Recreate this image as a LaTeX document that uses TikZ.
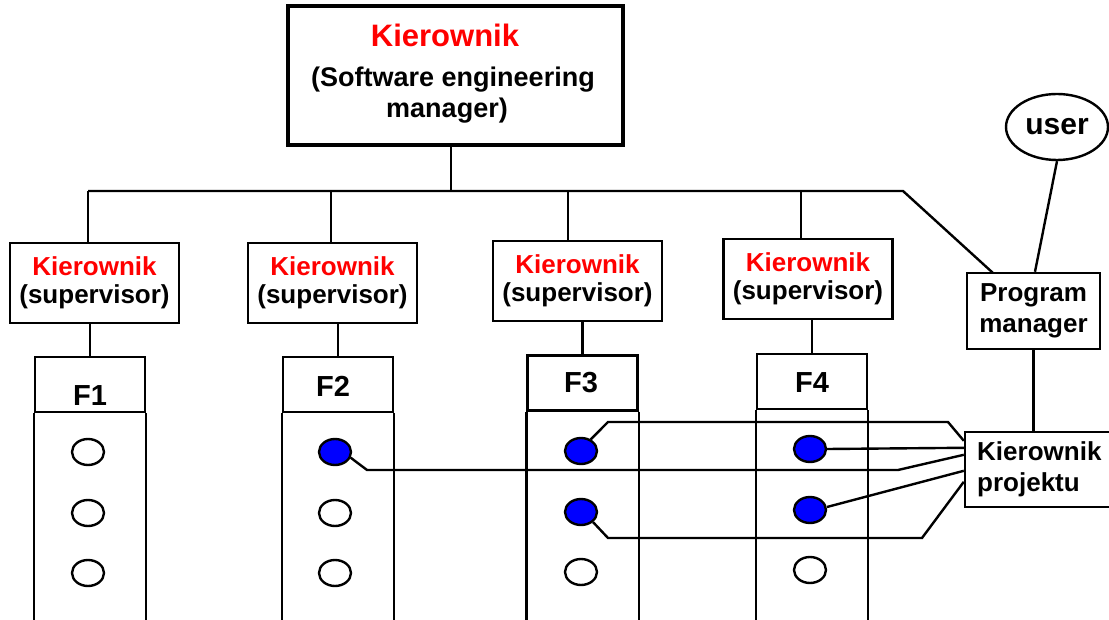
\documentclass[tikz,border=0pt]{standalone}
\usepackage{fontspec}
\setmainfont{Liberation Sans}
\usetikzlibrary{shapes.geometric}
\definecolor{kred}{RGB}{255,0,0}
\definecolor{kblue}{RGB}{0,0,255}
\begin{document}
\begin{tikzpicture}[x=1pt,y=-1pt,line width=2.4pt,
  sbox/.style={draw,rectangle,inner sep=0pt,align=center,minimum width=169pt,minimum height=80pt,
    font=\bfseries\fontsize{26}{28}\selectfont},
  rbox/.style={draw,rectangle,inner sep=0pt,align=center,minimum width=133pt,minimum height=76pt,
    font=\bfseries\fontsize{26}{31}\selectfont},
  txt/.style={inner sep=0pt,font=\bfseries\fontsize{26}{31}\selectfont},
  fhead/.style={draw,rectangle,inner sep=0pt,minimum width=110pt,minimum height=55pt},
  flabel/.style={inner sep=0pt,font=\bfseries\fontsize{29}{32}\selectfont},
  dot/.style={draw,ellipse,inner sep=0pt,minimum width=32pt,minimum height=26pt},
  bdot/.style={dot,fill=kblue}]
\useasboundingbox (0,0) rectangle (1109,620);
\clip (0,0) rectangle (1109,620);

% top box
\node[draw,rectangle,line width=4.5pt,minimum width=335pt,minimum height=139pt] (top) at (455.5,75.5) {};
\node[inner sep=0pt,text=kred,font=\bfseries\fontsize{31}{34}\selectfont] (topk) at (445,35) {Kierownik};
\node[txt,font=\bfseries\fontsize{27}{31}\selectfont] (tops) at (453,80) {(Software engineering};
\node[txt,font=\bfseries\fontsize{27}{31}\selectfont] (topm) at (447,111) {manager)};

% supervisors
\node[sbox] (s1) at (94.5,283) {\textcolor{kred}{Kierownik}\\(supervisor)};
\node[sbox] (s2) at (332.5,283) {\textcolor{kred}{Kierownik}\\(supervisor)};
\node[sbox] (s3) at (577.5,281) {\textcolor{kred}{Kierownik}\\(supervisor)};
\node[sbox] (s4) at (808,279) {\textcolor{kred}{Kierownik}\\(supervisor)};

% program manager, user, project manager
\node[rbox] (pm) at (1033.5,311) {Program\\manager};
\node[draw,ellipse,inner sep=0pt,minimum width=102pt,minimum height=66pt,
  font=\bfseries\fontsize{30}{32}\selectfont] (user) at (1057,127) {user};
\node[draw,rectangle,inner sep=0pt,minimum width=147pt,minimum height=75pt] (kp) at (1038.5,469.5) {};
\node[txt,anchor=west,align=left] (kpt) at (976,469) {Kierownik\\projektu};

% bus
\coordinate (bt) at (451,191);
\coordinate (b1) at (88,191);
\coordinate (b2) at (331,191);
\coordinate (b3) at (568,191);
\coordinate (b4) at (801,191);
\coordinate (bend) at (903,191);
\coordinate (pmin) at (993,273);
\draw (bt) -- (bt |- top.south);
\draw (b1) -- (bend) -- (pmin);
\draw (b1) -- (b1 |- s1.north);
\draw (b2) -- (b2 |- s2.north);
\draw (b3) -- (b3 |- s3.north);
\draw (b4) -- (b4 |- s4.north);
\draw (user.south) -- ([xshift=1.5pt]pm.north);
\draw (pm.south) -- (pm.south |- kp.north);

% function columns
\node[fhead] (h1) at (90,384.5) {};
\node[fhead] (h2) at (338,384.5) {};
\node[fhead] (h3) at (582.5,383) {};
\node[fhead] (h4) at (812,381.5) {};
\node[flabel] (l1) at (90,396) {F1};
\node[flabel] (l2) at (333,386) {F2};
\node[flabel] (l3) at (581,383) {F3};
\node[flabel] (l4) at (812,383) {F4};
\foreach \h in {h1,h2,h3,h4}{
  \draw (\h.south west) -- ++(0,240);
  \draw (\h.south east) -- ++(0,240);
}
\draw (h1.north) -- (h1.north |- s1.south);
\draw (h2.north) -- (h2.north |- s2.south);
\draw (h3.north) -- (h3.north |- s3.south);
\draw (h4.north) -- (h4.north |- s4.south);

% dots
\node[dot]  (d11) at (88,452) {};
\node[dot]  (d12) at (88,513) {};
\node[dot]  (d13) at (88,573) {};
\node[bdot] (d21) at (335,452) {};
\node[dot]  (d22) at (335,513) {};
\node[dot]  (d23) at (335,573) {};
\node[bdot] (d31) at (581,451) {};
\node[bdot] (d32) at (581,512) {};
\node[dot]  (d33) at (581,572) {};
\node[bdot] (d41) at (810,449) {};
\node[bdot] (d42) at (810,510) {};
\node[dot]  (d43) at (810,570) {};

% connectors to project manager
\coordinate (kp1) at ([yshift=-24pt]kp.north west);
\coordinate (kp2) at ([yshift=-10pt]kp.north west);
\coordinate (kp3) at ([yshift=-17pt]kp.north west);
\coordinate (kp4) at ([yshift=-40pt]kp.north west);
\coordinate (kp5) at ([yshift=-51pt]kp.north west);
\draw (d21.-20) -- (367,470) -- (898,470) -- (kp1);
\draw (d31.50) -- (608,422) -- (948,422) -- (kp2);
\draw (d41.east) -- (kp3);
\draw (d42.10) -- (kp4);
\draw (d32.-40) -- (608,538) -- (922,538) -- (kp5);
\end{tikzpicture}
\end{document}
